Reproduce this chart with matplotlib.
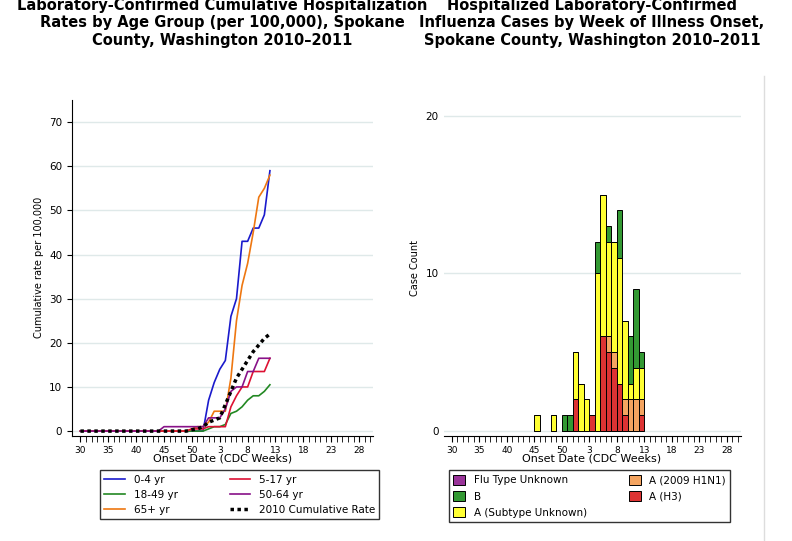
import matplotlib
matplotlib.use("Agg")
import matplotlib.pyplot as plt
import numpy as np

# week axis: CDC weeks 30..52 then 1..29
weeks = list(range(30, 53)) + list(range(1, 30))
tick_labels = ["30", "35", "40", "45", "50", "3", "8", "13", "18", "23", "28"]

# cumulative rates, index 0 = week 30 ; values from week index 20 to 34
idx = list(range(0, 35))
pre = [0] * 20
rate_0_4 = pre + [0, 0, 0, 7, 11, 14, 16, 26, 30, 43, 43, 46, 46, 49, 59]
rate_5_17 = pre + [0.5, 0.5, 0.5, 1, 1, 1, 1, 5.5, 8, 10, 10, 13.5, 13.5, 13.5, 16.5]
rate_18_49 = pre + [0, 0, 0, 0.5, 1, 1, 1.5, 4, 4.5, 5.5, 7, 8, 8, 9, 10.5]
rate_50_64 = [0] * 15 + [1, 1, 1, 1, 1, 1, 1, 1, 3, 3, 3, 5, 9, 10, 10, 13.5, 13.5, 16.5, 16.5, 16.5]
rate_65 = pre + [0.5, 1, 1, 2, 4.5, 4.5, 4.5, 12, 25, 33, 38, 45, 53, 55, 58]
rate_2010 = pre + [0.3, 0.5, 1, 2, 2.5, 3, 6, 9, 12, 14, 16, 18, 19.5, 21, 22]

# case counts by week index
case_idx = [15, 18, 20, 21, 22, 23, 24, 25, 26, 27, 28, 29, 30, 31, 32, 33, 34]
flu_unknown = [0] * 17
a_h3 = [0, 0, 0, 0, 2, 0, 0, 1, 0, 6, 5, 4, 3, 1, 0, 0, 1]
a_h1n1 = [0, 0, 0, 0, 0, 0, 0, 0, 0, 0, 1, 1, 0, 1, 2, 2, 1]
a_unsub = [1, 1, 0, 0, 3, 3, 2, 0, 10, 9, 6, 7, 8, 5, 1, 2, 2]
flu_b = [0, 0, 1, 1, 0, 0, 0, 0, 2, 0, 1, 0, 3, 0, 3, 5, 1]

fig = plt.figure(figsize=(7.92, 5.41), dpi=100)
grid_c = "#dfe9e9"

# ---- left panel
ax1 = fig.add_axes([0.091, 0.195, 0.38, 0.62])
ax1.plot(idx, rate_0_4, color="#1a1acc", lw=1.2, label="0-4 yr")
ax1.plot(idx, rate_18_49, color="#228822", lw=1.2, label="18-49 yr")
ax1.plot(idx, rate_65, color="#ee7711", lw=1.2, label="65+ yr")
ax1.plot(idx, rate_5_17, color="#dd1133", lw=1.2, label="5-17 yr")
ax1.plot(idx, rate_50_64, color="#881188", lw=1.2, label="50-64 yr")
ax1.plot(idx, rate_2010, color="black", lw=2.5, ls=(0, (1, 1)), label="2010 Cumulative Rate")
ax1.set_ylim(-1, 75)
ax1.set_yticks(range(0, 71, 10))
ax1.set_ylabel("Cumulative rate per 100,000", fontsize=7)
ax1.set_title("Laboratory-Confirmed Cumulative Hospitalization\nRates by Age Group (per 100,000), Spokane\nCounty, Washington 2010\u20132011",
              fontsize=10.5, fontweight="bold", pad=40)
handles, labels = ax1.get_legend_handles_labels()
fig.legend(handles, labels, ncol=2, loc="upper left", bbox_to_anchor=(0.12, 0.14),
           fontsize=7.5, frameon=True, edgecolor="black", fancybox=False, columnspacing=5)

# ---- right panel
ax2 = fig.add_axes([0.56, 0.195, 0.375, 0.62])
bottom = np.zeros(len(case_idx))
for vals, col, lab in [(flu_unknown, "#993399", "Flu Type Unknown"),
                       (a_h3, "#dd3333", "A (H3)"),
                       (a_h1n1, "#f4a460", "A (2009 H1N1)"),
                       (a_unsub, "#ffff33", "A (Subtype Unknown)"),
                       (flu_b, "#339933", "B")]:
    ax2.bar(case_idx, vals, bottom=bottom, width=1, align="edge", color=col,
            edgecolor="black", linewidth=0.7, label=lab)
    bottom += np.array(vals)
ax2.set_ylim(-0.3, 21)
ax2.set_yticks([0, 10, 20])
ax2.set_ylabel("Case Count", fontsize=7)
ax2.set_title("Hospitalized Laboratory-Confirmed\nInfluenza Cases by Week of Illness Onset,\nSpokane County, Washington 2010\u20132011",
              fontsize=10.5, fontweight="bold", pad=40)
h, l = ax2.get_legend_handles_labels()
hd = dict(zip(l, h))
leg_order = ["Flu Type Unknown", "B", "A (Subtype Unknown)", "A (2009 H1N1)", "A (H3)"]
fig.legend([hd[k] for k in leg_order], leg_order, ncol=2, loc="upper left",
           bbox_to_anchor=(0.56, 0.14), fontsize=7.5, frameon=True, edgecolor="black",
           fancybox=False, columnspacing=4, handlelength=1.2, handleheight=1.2)

for ax in (ax1, ax2):
    ax.set_xlim(-1.5, 52.5)
    ax.set_xticks(range(0, 51, 5))
    ax.set_xticklabels(tick_labels)
    ax.set_xticks(range(0, 53), minor=True)
    ax.tick_params(axis="x", labelsize=6.5, length=4)
    ax.tick_params(axis="x", which="minor", length=4)
    ax.tick_params(axis="y", labelsize=7.5)
    ax.set_xlabel("Onset Date (CDC Weeks)", fontsize=8, labelpad=-1)
    ax.yaxis.grid(True, color=grid_c, lw=1)
    ax.set_axisbelow(True)
    ax.spines["top"].set_visible(False)
    ax.spines["right"].set_visible(False)
ax2.spines["left"].set_visible(False)
ax2.tick_params(axis="y", length=0)

fig.add_artist(plt.Line2D([0.965, 0.965], [0.0, 0.86], color="#dddddd", lw=1))
fig.savefig("out.png", dpi=100)
